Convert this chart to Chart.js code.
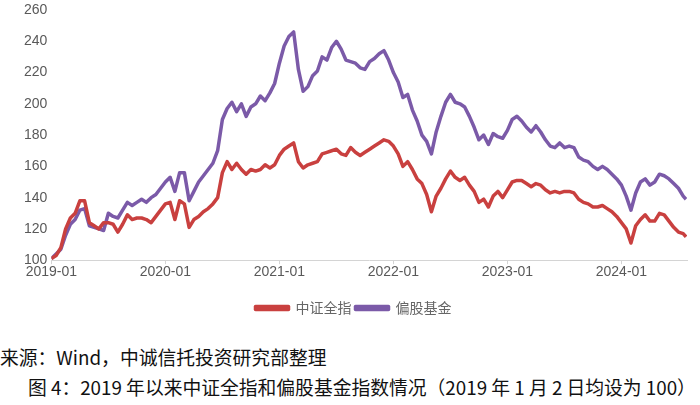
<!DOCTYPE html>
<html>
<head>
<meta charset="utf-8">
<script src="https://cdn.jsdelivr.net/npm/chart.js@4.4.1/dist/chart.umd.min.js"></script>
<style>
  html, body { margin: 0; padding: 0; background: #fff; width: 700px; height: 405px; overflow: hidden; }
  #wrap { position: absolute; left: 0; top: 0; width: 700px; height: 325px; }
  .note { position: absolute; margin: 0; white-space: nowrap; color: #111;
    font-family: "Noto Sans CJK SC", "Noto Sans", sans-serif; font-size: 18.8px; line-height: 20px; }
  #src { left: 0; top: 347px; }
  #cap { left: 28px; top: 377px; }
</style>
</head>
<body>
<div id="wrap"><canvas id="c"></canvas></div>
<p class="note" id="src">来源：Wind，中诚信托投资研究部整理</p>
<p class="note" id="cap">图 4：2019 年以来中证全指和偏股基金指数情况（2019 年 1 月 2 日均设为 100）</p>
<script>
/* half-monthly readings, starting 2019-01-02 (months since start = index / 2) */
const seriesNames = ["中证全指", "偏股基金"];
const xTickLabels = ["2019-01", "2020-01", "2021-01", "2022-01", "2023-01", "2024-01"];
const yTicks = [100, 120, 140, 160, 180, 200, 220, 240, 260];

const csiAll = [
  101, 103, 108, 120, 127, 130, 138, 138, 124, 122, 120, 124, 124, 123, 118, 123,
  129, 126, 127, 127, 126, 124, 128, 132, 136, 137, 126, 138, 136, 121, 126, 128,
  131, 133, 136, 140, 156, 163, 158, 162, 158, 155, 158, 157, 158, 161, 159, 161,
  167, 171, 173, 175, 163, 159, 161, 162, 163, 168, 169, 170, 171, 168, 167, 172,
  169, 167, 169, 171, 173, 175, 177, 176, 173, 168, 160, 163, 158, 152, 149, 142,
  131, 141, 146, 152, 157, 153, 151, 153, 148, 144, 137, 139, 134, 141, 144, 140,
  145, 150, 151, 151, 149, 147, 149, 148, 145, 143, 144, 143, 144, 144, 143, 139,
  137, 136, 134, 134, 135, 133, 131, 128, 124, 120, 111, 122, 126, 129, 125, 125,
  130, 129, 125, 121, 118, 117, 115
];
const equityFund = [
  101, 104, 107, 116, 123, 126, 132, 133, 122, 121, 120, 119, 130, 128, 127, 132,
  137, 135, 137, 139, 137, 140, 142, 146, 150, 153, 144, 156, 156, 138, 144, 150,
  154, 158, 162, 170, 190, 197, 201, 195, 200, 192, 198, 200, 205, 202, 207, 213,
  226, 237, 243, 246, 222, 208, 211, 218, 221, 230, 228, 236, 240, 235, 228, 227,
  226, 223, 222, 227, 229, 232, 234, 228, 220, 214, 204, 206, 196, 189, 180, 176,
  168, 182, 192, 201, 206, 201, 200, 198, 192, 185, 177, 180, 174, 181, 179, 178,
  183, 190, 192, 189, 185, 182, 186, 182, 177, 173, 172, 175, 172, 173, 172, 166,
  164, 163, 160, 158, 160, 158, 155, 152, 148, 141, 132, 143, 150, 152, 148, 150,
  155, 154, 152, 149, 146, 141, 139
];
const colors = ["#c9403f", "#7b5aa8"];

const pts = (arr) => arr.map((v, i) => ({ x: Math.min(i * 0.5, 66.8), y: v }));
const tickFont = { family: "'Liberation Sans', Arial, sans-serif", size: 14 };

new Chart(document.getElementById("c"), {
  type: "line",
  data: {
    datasets: [csiAll, equityFund].map((d, i) => ({
      label: seriesNames[i], data: pts(d), borderColor: colors[i], backgroundColor: colors[i],
      borderWidth: 3.5, pointRadius: 0, tension: 0, borderJoinStyle: "round"
    }))
  },
  options: {
    responsive: true, maintainAspectRatio: false, animation: false,
    layout: { padding: { left: 20, right: 13, top: 10, bottom: 0 } },
    plugins: {
      tooltip: { enabled: false },
      legend: {
        position: "bottom",
        labels: { boxWidth: 33, boxHeight: 3, padding: 4, color: "#666",
          font: { family: "'Noto Sans CJK SC', sans-serif", size: 14 } }
      }
    },
    scales: {
      x: {
        type: "linear", min: 0, max: 66.9,
        afterBuildTicks: (ax) => { ax.ticks = xTickLabels.map((_, i) => ({ value: i * 12 })); },
        afterFit: (ax) => { ax.height += 16; ax.paddingLeft = 0; ax.paddingRight = 0; },
        ticks: { callback: (v) => xTickLabels[Math.round(v / 12)] || "", color: "#595959", font: tickFont,
          padding: 0, maxRotation: 0, autoSkip: false },
        grid: { drawOnChartArea: false, tickLength: 4, color: "#d4d4d4" },
        border: { color: "#d4d4d4" }
      },
      y: {
        min: 100, max: 260,
        afterBuildTicks: (ax) => { ax.ticks = yTicks.map((v) => ({ value: v })); },
        afterFit: (ax) => { ax.paddingTop = 0; ax.paddingBottom = 0; },
        ticks: { color: "#595959", font: tickFont, padding: 4 },
        grid: { display: false, drawTicks: false },
        border: { display: false }
      }
    }
  }
});
</script>
</body>
</html>
